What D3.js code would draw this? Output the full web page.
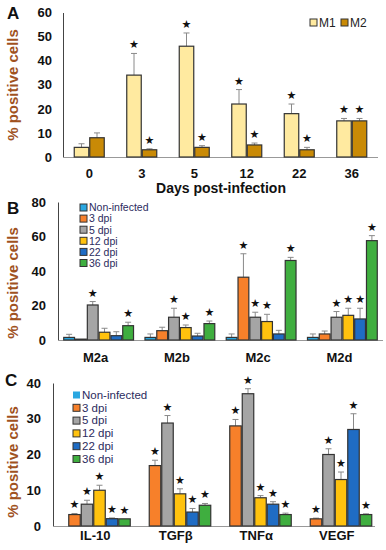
<!DOCTYPE html>
<html>
<head>
<meta charset="utf-8">
<script src="https://cdn.jsdelivr.net/npm/d3@7"></script>
<style>
  body { margin: 0; background: #fff; }
  svg { font-family: "Liberation Sans", Arial, sans-serif; }
</style>
</head>
<body>
<svg id="chart" width="386" height="550"></svg>
<script>
// panel A data
const daysA = ["0", "3", "5", "12", "22", "36"];
const m1Vals = [4, 34, 46, 22, 18, 15];
const m1Err = [1.5, 9, 5.5, 6, 4, 1];
const m1Star = [false, true, true, true, true, true];
const m2Vals = [8, 3, 4, 5, 3, 15];
const m2Err = [2, 0.4, 0.7, 0.8, 1, 1];
const m2Star = [false, true, true, true, true, true];
const ticksA = [0, 10, 20, 30, 40, 50, 60];

// panel B data
const subtypesB = ["M2a", "M2b", "M2c", "M2d"];
const groups = ["Non-infected", "3 dpi", "5 dpi", "12 dpi", "22 dpi", "36 dpi"];
const bVals = [
  [1.5, 0.5, 20.3, 4.5, 2.5, 8.3],
  [1.5, 5.4, 13.2, 7.2, 2.3, 9.5],
  [1.5, 36.4, 13.2, 10.7, 3.5, 46.1],
  [1.5, 3.5, 13.2, 14.3, 12.2, 57.6]
];
const bErr = [
  [1.8, 0, 2, 2.3, 2.3, 2],
  [2, 2, 5.2, 1.5, 1.6, 1.5],
  [2, 13.6, 2.9, 4.2, 2.1, 1.8],
  [2, 1.7, 3.3, 4.1, 6.2, 2.9]
];
const bStar = [
  [false, false, true, false, false, true],
  [false, false, true, true, false, true],
  [false, true, true, true, false, true],
  [false, false, true, true, true, true]
];
const ticksB = [0, 20, 40, 60, 80];

// panel C data
const cytokinesC = ["IL-10", "TGF\u03b2", "TNF\u03b1", "VEGF"];
const cVals = [
  [0, 3.2, 6.1, 10, 2.05, 2],
  [0, 16.9, 28.8, 9, 3.9, 5.8],
  [0, 28, 37, 7.9, 6.1, 3.2],
  [0, 2, 20, 13, 27, 3.2]
];
const cErr = [
  [0, 0.3, 1.1, 1.4, 0.2, 0],
  [0, 1.5, 2.1, 1.4, 1, 0.5],
  [0, 1.8, 1.4, 0.6, 0.7, 0.4],
  [0, 0.2, 1.6, 2.1, 4.4, 0.2]
];
const cStar = [
  [false, true, true, true, true, true],
  [false, true, true, true, true, true],
  [false, true, true, true, true, true],
  [false, true, true, true, true, true]
];
const ticksC = [0, 10, 20, 30, 40];

const groupColors = ["#2aa7e1", "#f7802a", "#a5a5a5", "#ffc20e", "#1f6cc4", "#3fae3f"];
const mColors = ["#ffeaa0", "#c98a06"];

const svg = d3.select("#chart");
const TITLE_COLOR = "#a0521f";

// generic grouped panel
function drawPanel(opt) {
  const g = svg.append("g");
  const x0 = d3.scaleBand().domain(opt.cats).range([opt.left, opt.right]).paddingInner(0).paddingOuter(0);
  const x1 = d3.scaleBand().domain(d3.range(opt.nSeries))
      .range([0, opt.barW * opt.nSeries]);
  const y = d3.scaleLinear().domain([0, opt.max]).range([opt.bottom, opt.top]);

  // y axis
  const yAxis = g.append("g")
      .attr("transform", "translate(" + opt.left + ",0)")
      .call(d3.axisLeft(y).tickValues(opt.ticks).tickSize(0).tickPadding(opt.tickPad));
  yAxis.select(".domain").attr("stroke", "#444").attr("stroke-width", 1);
  yAxis.selectAll("text").attr("font-size", "13px").attr("font-weight", "bold").attr("fill", "#111");

  // x baseline
  g.append("line")
      .attr("x1", opt.left).attr("x2", opt.right)
      .attr("y1", y(0) + 0.5).attr("y2", y(0) + 0.5)
      .attr("stroke", "#999").attr("stroke-width", 1);

  // category labels
  g.selectAll(".cat")
      .data(opt.cats)
      .enter().append("text")
      .attr("x", (d) => x0(d) + x0.bandwidth() / 2 + opt.labelShift)
      .attr("y", opt.catY)
      .attr("text-anchor", "middle")
      .attr("font-size", "13px")
      .attr("font-weight", "bold")
      .attr("fill", "#111")
      .text((d) => d);

  // bars
  opt.cats.forEach((c, ci) => {
    const gx = x0(c) + (x0.bandwidth() - opt.barW * opt.nSeries) / 2;
    for (let s = 0; s < opt.nSeries; s++) {
      const v = opt.vals(ci, s);
      const e = opt.errs(ci, s);
      const bx = gx + x1(s);
      const cx = bx + opt.barW / 2;
      if (e > 0) {
        g.append("line")
            .attr("x1", cx).attr("x2", cx)
            .attr("y1", y(v)).attr("y2", y(v + e))
            .attr("stroke", "#8a8a8a").attr("stroke-width", 1);
        g.append("line")
            .attr("x1", cx - 3).attr("x2", cx + 3)
            .attr("y1", y(v + e)).attr("y2", y(v + e))
            .attr("stroke", "#8a8a8a").attr("stroke-width", 1);
      }
      if (v > 0) {
        g.append("rect")
            .attr("x", bx + 0.5)
            .attr("y", y(v))
            .attr("width", opt.barW - 1)
            .attr("height", y(0) - y(v))
            .attr("fill", opt.color(s))
            .attr("stroke", "#333")
            .attr("stroke-width", 1.2);
      }
      if (opt.stars(ci, s)) {
        g.append("text")
            .attr("x", cx)
            .attr("y", y(v + e) - 5)
            .attr("text-anchor", "middle")
            .attr("font-size", "11px")
            .attr("font-family", "DejaVu Sans")
            .attr("fill", "#111")
            .text("\u2605");
      }
    }
  });

  // y title
  g.append("text")
      .attr("transform", "translate(" + opt.titleX + "," + opt.titleY + ") rotate(-90)")
      .attr("text-anchor", "middle")
      .attr("font-size", "15px")
      .attr("font-weight", "bold")
      .attr("fill", TITLE_COLOR)
      .text("% positive cells");

  // panel letter
  g.append("text")
      .attr("x", opt.letterX).attr("y", opt.letterY)
      .attr("font-size", "17px")
      .attr("font-weight", "bold")
      .attr("fill", "#111")
      .text(opt.letter);

  return g;
}

// Panel A
drawPanel({
  cats: daysA, nSeries: 2, barW: 15.5,
  left: 63, right: 378, top: 12.5, bottom: 157, max: 60, ticks: ticksA, tickPad: 11,
  vals: (c, s) => (s === 0 ? m1Vals[c] : m2Vals[c]),
  errs: (c, s) => (s === 0 ? m1Err[c] : m2Err[c]),
  stars: (c, s) => (s === 0 ? m1Star[c] : m2Star[c]),
  color: (s) => mColors[s],
  catY: 178, labelShift: 0,
  titleX: 18, titleY: 85, letter: "A", letterX: 7, letterY: 19
});

svg.append("text")
    .attr("x", 221).attr("y", 193)
    .attr("text-anchor", "middle")
    .attr("font-size", "14px")
    .attr("font-weight", "bold")
    .attr("fill", "#111")
    .text("Days post-infection");

// legend A
const legA = svg.append("g").attr("transform", "translate(310,19)");
["M1", "M2"].forEach((name, i) => {
  legA.append("rect")
      .attr("x", i * 31).attr("y", 0)
      .attr("width", 7).attr("height", 7)
      .attr("fill", mColors[i]).attr("stroke", "#333").attr("stroke-width", 1);
  legA.append("text")
      .attr("x", i * 31 + 9).attr("y", 7.5)
      .attr("font-size", "12px")
      .attr("fill", "#222")
      .text(name);
});

// Panel B
drawPanel({
  cats: subtypesB, nSeries: 6, barW: 11.8,
  left: 58, right: 383, top: 202, bottom: 340, max: 80, ticks: ticksB, tickPad: 12,
  vals: (c, s) => bVals[c][s],
  errs: (c, s) => bErr[c][s],
  stars: (c, s) => bStar[c][s],
  color: (s) => groupColors[s],
  catY: 362, labelShift: -3,
  titleX: 18, titleY: 283, letter: "B", letterX: 7, letterY: 214
});

// Panel C
drawPanel({
  cats: cytokinesC, nSeries: 6, barW: 12.5,
  left: 53, right: 375, top: 383, bottom: 526, max: 40, ticks: ticksC, tickPad: 12,
  vals: (c, s) => cVals[c][s],
  errs: (c, s) => cErr[c][s],
  stars: (c, s) => cStar[c][s],
  color: (s) => groupColors[s],
  catY: 540, labelShift: 2,
  titleX: 18, titleY: 462, letter: "C", letterX: 5, letterY: 386
});

// group legends for B and C
function groupLegend(tx, ty, step, size, fs, noOutlineFirst) {
  const leg = svg.append("g").attr("transform", "translate(" + tx + "," + ty + ")");
  groups.forEach((name, i) => {
    leg.append("rect")
        .attr("x", 0).attr("y", i * step - size / 2)
        .attr("width", size).attr("height", size)
        .attr("fill", groupColors[i])
        .attr("stroke", noOutlineFirst && i === 0 ? "none" : "#333")
        .attr("stroke-width", 1);
    leg.append("text")
        .attr("x", size + 2).attr("y", i * step + 3.8)
        .attr("font-size", fs)
        .attr("fill", "#2b2b5e")
        .text(name);
  });
}
groupLegend(80, 207.5, 11.1, 7, "10.5px", false);
groupLegend(73, 395, 12.8, 7, "11.5px", true);
</script>
</body>
</html>
